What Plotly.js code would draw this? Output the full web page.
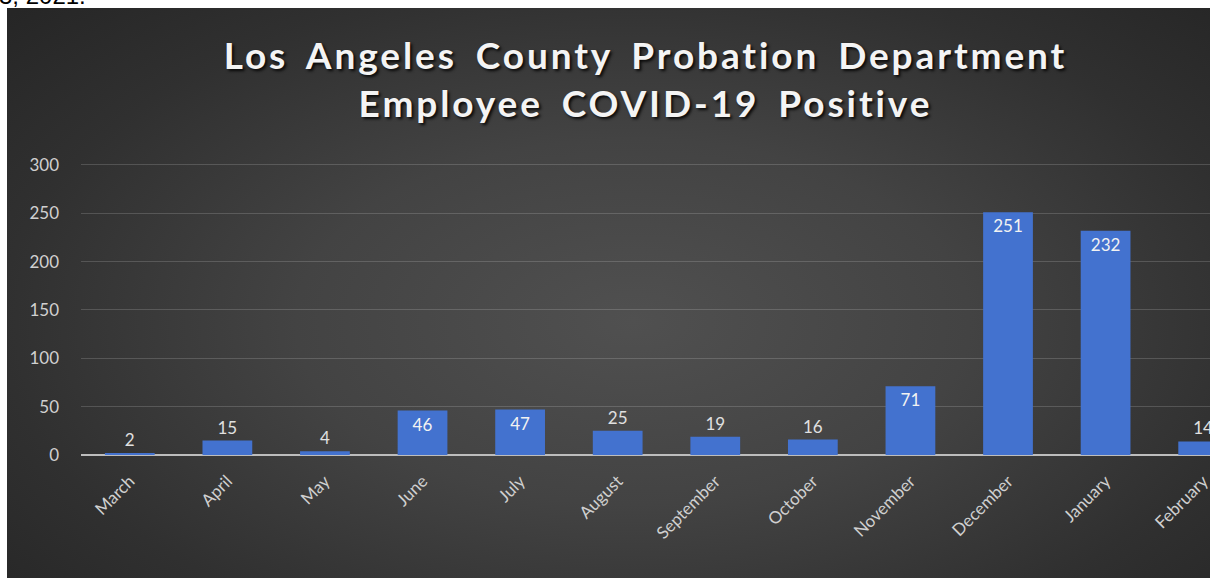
<!DOCTYPE html>
<html>
<head>
<meta charset="utf-8">
<script src="https://cdn.plot.ly/plotly-3.0.1.min.js"></script>
<style>
  html, body { margin: 0; padding: 0; background: #ffffff; width: 1210px; height: 578px; overflow: hidden; }
  #bg { position: absolute; left: 7px; top: 8px; width: 1203px; height: 570px;
        background: radial-gradient(ellipse 70% 80% at 52% 55%, #505050 0%, #434343 40%, #303030 75%, #262626 100%); }
  #cap { position: absolute; left: 0; top: 0; width: 300px; height: 8px; overflow: hidden; }
  #cap span { position: absolute; left: -1px; top: -18px; font: 24px "Liberation Sans", Arial, sans-serif; color: #000; white-space: nowrap; }
  #chart { position: absolute; left: 0; top: 0; width: 1210px; height: 578px; }
  #chart .gtitle { letter-spacing: 2.9px; word-spacing: 7px; }
</style>
</head>
<body>
<div id="bg"></div>
<div id="cap"><span>3, 2021.</span></div>
<div id="chart"></div>
<script>
const months = ["March","April","May","June","July","August","September","October","November","December","January","February"];
const positives = [2, 15, 4, 46, 47, 25, 19, 16, 71, 251, 232, 14];
const yTicks = [0, 50, 100, 150, 200, 250, 300];
const titleLines = ["Los Angeles County Probation Department", "Employee COVID-19 Positive"];

const insideThreshold = 40;
const textPos = positives.map(v => v >= insideThreshold ? "inside" : "outside");

const trace = {
  type: "bar",
  x: months,
  y: positives,
  text: positives.map(String),
  textposition: textPos,
  insidetextanchor: "end",
  cliponaxis: true,
  textangle: 0,
  constraintext: "none",
  insidetextfont: { family: "Lato, 'Open Sans', sans-serif", size: 17, color: "#f2f2f2" },
  outsidetextfont: { family: "Lato, 'Open Sans', sans-serif", size: 17, color: "#e0e0e0" },
  marker: { color: "#4372cf", line: { width: 0 } },
  hoverinfo: "none"
};

const layout = {
  width: 1210,
  height: 578,
  paper_bgcolor: "rgba(0,0,0,0)",
  plot_bgcolor: "rgba(0,0,0,0)",
  margin: { l: 81, r: 0, t: 163, b: 123, pad: 0 },
  showlegend: false,
  bargap: 0.49,
  title: {
    text: titleLines.join("<br>"),
    font: { family: "Lato, 'Open Sans', sans-serif", size: 37, weight: 700, color: "#f4f4f4", shadow: "2px 2px 3px rgba(0,0,0,0.85)" },
    x: 0.5,
    xanchor: "center",
    xref: "paper",
    yref: "container",
    y: 1 - 69 / 578,
    yanchor: "top"
  },
  xaxis: {
    type: "category",
    range: [-0.5, 11.07],
    tickangle: -45,
    tickfont: { family: "Lato, 'Open Sans', sans-serif", size: 17, color: "#d0d0d0" },
    ticklabelstandoff: 12,
    showgrid: false,
    zeroline: false,
    showline: false,
    ticks: "",
    fixedrange: true
  },
  yaxis: {
    range: [0, 302],
    tickvals: yTicks,
    ticktext: yTicks.map(String),
    tickfont: { family: "Lato, 'Open Sans', sans-serif", size: 17, color: "#d0d0d0" },
    showgrid: true,
    gridcolor: "rgba(255,255,255,0.16)",
    gridwidth: 1,
    zeroline: true,
    zerolinecolor: "#bdbdbd",
    zerolinewidth: 2,
    showline: false,
    ticks: "",
    ticklabelstandoff: 21,
    fixedrange: true
  }
};

Plotly.newPlot("chart", [trace], layout, { displayModeBar: false, staticPlot: true });
</script>
</body>
</html>
